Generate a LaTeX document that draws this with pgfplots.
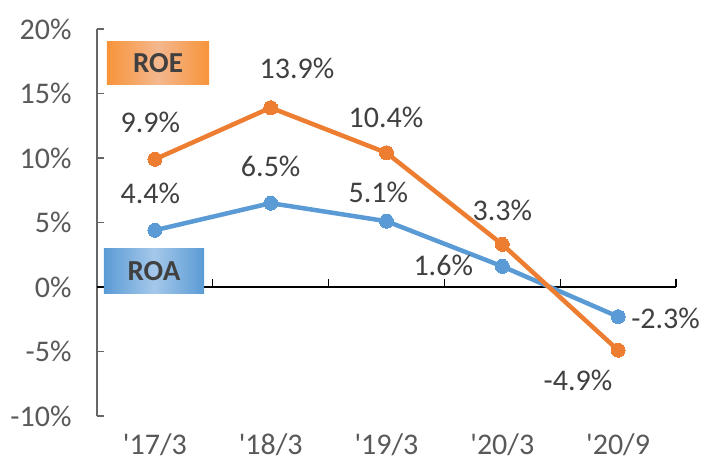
\documentclass[border=0pt]{standalone}
\usepackage{fontspec}
\setmainfont{Carlito}
\usepackage{pgfplots}
\pgfplotsset{compat=1.18}
\usetikzlibrary{shadings}
\definecolor{roe}{HTML}{ED7D31}
\definecolor{roa}{HTML}{5B9BD5}
\definecolor{txt}{HTML}{404040}
\definecolor{tickc}{HTML}{595959}
\definecolor{roeedge}{HTML}{F7943A}
\definecolor{roemid}{HTML}{F4B78E}
\definecolor{roaedge}{HTML}{5B9BD5}
\definecolor{roamid}{HTML}{A4C8EA}
\begin{document}
\begin{tikzpicture}
\begin{axis}[
  at={(0,0)}, anchor=south west,
  scale only axis, width=579pt, height=387pt,
  xmin=-0.5, xmax=4.5, ymin=-10, ymax=20,
  separate axis lines,
  axis y line=left, axis x line=bottom,
  axis line style={-},
  y axis line style={draw=black!60, line width=1.2pt},
  x axis line style={draw=none},
  major x tick style={draw=none},
  major y tick style={draw=black!60, line width=1.2pt},
  tick align=inside, major tick length=7pt,
  xtick={0,1,2,3,4},
  xticklabels={\textquotesingle17/3,\textquotesingle18/3,\textquotesingle19/3,\textquotesingle20/3,\textquotesingle20/9},
  ytick={-10,-5,0,5,10,15,20},
  yticklabel={\pgfmathprintnumber{\tick}\%},
  /pgf/number format/assume math mode=true,
  tick label style={font=\fontsize{30}{36}\selectfont, text=tickc},
  yticklabel style={xshift=-22pt},
  xticklabel style={yshift=-14pt},
  clip=false,
]
\draw[black, line width=1.2pt] (axis cs:-0.5,0) -- (axis cs:4.5,0);
\pgfplotsinvokeforeach{0.5,1.5,2.5,3.5,4.5}{
  \draw[black, line width=1.2pt] (axis cs:#1,0) -- (axis cs:#1,0.6);
}
\addplot[roa, line width=4.5pt, mark=*, mark size=7pt, mark options={fill=roa, draw=roa, line width=0pt}]
  coordinates {(0,4.4) (1,6.5) (2,5.1) (3,1.6) (4,-2.3)};
\addplot[roe, line width=4.5pt, mark=*, mark size=7pt, mark options={fill=roe, draw=roe, line width=0pt}]
  coordinates {(0,9.9) (1,13.9) (2,10.4) (3,3.3) (4,-4.9)};
\begin{scope}[every node/.style={font=\fontsize{30}{36}\selectfont, text=txt}]
\node at (axis cs:-0.04,12.79) {9.9\%};
\node at (axis cs:1.227,16.98) {13.9\%};
\node at (axis cs:1.996,13.18) {10.4\%};
\node at (axis cs:3.0,5.97) {3.3\%};
\node at (axis cs:3.654,-7.21) {-4.9\%};
\node at (axis cs:-0.04,7.29) {4.4\%};
\node at (axis cs:1.0,9.38) {6.5\%};
\node at (axis cs:1.93,7.36) {5.1\%};
\node at (axis cs:2.49,1.71) {1.6\%};
\node at (axis cs:4.41,-2.40) {-2.3\%};
\end{scope}
\end{axis}
\node[minimum width=102pt, minimum height=43pt, inner sep=0pt,
  left color=roeedge, right color=roeedge, middle color=roemid,
  font=\bfseries\fontsize{29}{34}\selectfont, text=txt] at (61pt,352.5pt) {ROE};
\node[minimum width=100pt, minimum height=45pt, inner sep=0pt,
  left color=roaedge, right color=roaedge, middle color=roamid,
  font=\bfseries\fontsize{29}{34}\selectfont, text=txt] at (57pt,144.5pt) {ROA};
\pgfresetboundingbox
\path[use as bounding box] (-97pt,-50pt) rectangle (608pt,416pt);
\end{tikzpicture}
\end{document}
